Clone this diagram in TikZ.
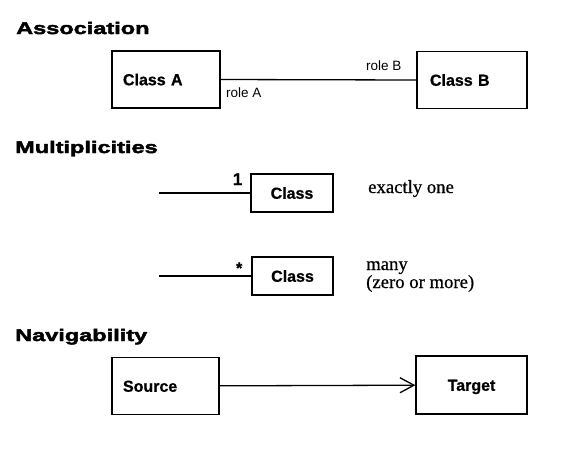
\documentclass[tikz,border=0pt]{standalone}
\usepackage{fontspec}
\setmainfont{Liberation Serif}
\setsansfont{Liberation Sans}
\newfontfamily\headfont{Liberation Sans Bold}[FakeStretch=1.4,FakeBold=2.6]
\newfontfamily\boxfont{Liberation Sans Bold}[FakeBold=0.8]
\newfontfamily\notefont{Liberation Serif}[FakeBold=0.6]
\usetikzlibrary{positioning,arrows.meta}

\begin{document}
\begin{tikzpicture}[x=1pt, y=-1pt, >={Straight Barb[length=14pt,width=15pt]}]
    \tikzset{head/.style={anchor=base west, inner sep=0pt, font=\headfont\fontsize{16.8}{18}\selectfont},
             classbox/.style={draw, line width=1.3pt, inner sep=0pt, text height=11.5pt, text depth=0pt, font=\boxfont\fontsize{16}{18}\selectfont},
             leftbox/.style={classbox, align=left, minimum height=57pt},
             role/.style={anchor=base west, inner sep=0pt, font=\sffamily\fontsize{13.5}{15}\selectfont},
             note/.style={anchor=base west, inner sep=0pt, font=\notefont\fontsize{18.7}{18}\selectfont},
             mult/.style={anchor=base east, inner sep=0pt, font=\boxfont\fontsize{17}{18}\selectfont},
             link/.style={line width=1.3pt}}
    \useasboundingbox (0,0) rectangle (569,456);

    % Headings
    \node[head] (assochead) at (16,34)  {Association};
    \node[head] (multhead)  at (15,153) {Multiplicities};
    \node[head] (navhead)   at (15,341) {Navigability};

    % Association
    \node[leftbox, inner xsep=11pt, text width=86pt] (classA) at (166,79.5) {Class A};
    \node[leftbox, inner xsep=13pt, text width=84pt] (classB) at (472,80)   {Class B};
    \draw[link] (classA.east) -- (classB.west);
    \node[role] (roleA) at (226,97) {role A};
    \node[role] (roleB) at (366,70) {role B};

    % Multiplicities
    \node[classbox, minimum width=82pt, minimum height=38pt] (classOne)  at (292,193)   {Class};
    \node[classbox, minimum width=81pt, minimum height=38pt] (classMany) at (292.5,276) {Class};
    \coordinate (oneend)  at (159,193);
    \coordinate (manyend) at (159,276);
    \draw[link] (oneend)  -- (classOne.west);
    \draw[link] (manyend) -- (classMany.west);
    \node[mult] (one)  at (242.5,185) {1};
    \node[mult, font=\boxfont\fontsize{16}{16}\selectfont] (many) at (242.5,273.5) {*};
    \node[note] (exactly) at (368,193) {exactly one};
    \node[note] (manytxt) at (366,270) {many};
    \node[note] (zero)    at (366,288) {(zero or more)};

    % Navigability
    \node[leftbox, inner xsep=11pt, text width=85pt] (source) at (165.5,386) {Source};
    \node[classbox, minimum width=111pt, minimum height=58pt] (target) at (471.5,385) {Target};
    \draw[link, ->] (source) -- (target);
\end{tikzpicture}
\end{document}
